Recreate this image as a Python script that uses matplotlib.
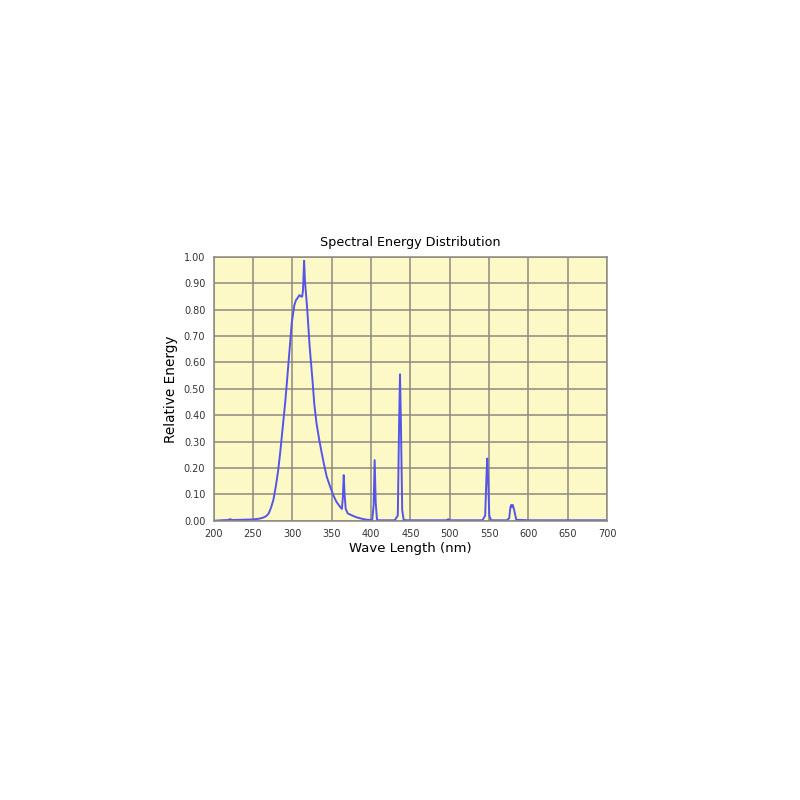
#!/usr/bin/env python3
"""Spectral energy distribution of a UV lamp, single line on a yellow grid."""
import numpy as np
import matplotlib
matplotlib.use("Agg")
import matplotlib.pyplot as plt

# (nm, relative energy)
wavelength = [200, 210, 218, 221, 224, 235, 250, 258, 263, 267, 270, 273,
              276, 279, 282, 285, 288, 291, 293, 296, 299.3, 302.6, 304.7,
              307, 309, 311, 312.5, 313.5, 315, 316, 319, 322, 325.6, 328,
              330.7, 334, 337.4, 340.5, 343.7, 348, 352, 356, 360.6, 363.0,
              364.2, 365.3, 366.4, 367.8, 370.4, 376, 381.8, 388, 394.5, 401.5,
              403.3, 404.6, 405.9, 407.5, 409, 430, 434, 435.6, 436.8, 438.0,
              439.6, 441.5, 446, 496, 498, 500, 541.5, 545, 546.5, 547.6, 548.7,
              550.2, 552.5, 572.5, 575.5, 577, 578, 579, 580, 581.5, 584.5, 600,
              700]
energy = [0.0, 0.002, 0.003, 0.006, 0.003, 0.004, 0.005, 0.008, 0.012,
          0.018, 0.028, 0.05, 0.08, 0.13, 0.19, 0.27, 0.36, 0.45, 0.52,
          0.63, 0.75, 0.817, 0.836, 0.845, 0.855, 0.85, 0.849, 0.87, 0.985,
          0.91, 0.8, 0.66, 0.533, 0.44, 0.37, 0.31, 0.256, 0.21, 0.167,
          0.13, 0.097, 0.072, 0.053, 0.045, 0.09, 0.173, 0.1, 0.045, 0.028,
          0.02, 0.013, 0.008, 0.004, 0.003, 0.06, 0.23, 0.07, 0.006, 0.002,
          0.002, 0.02, 0.36, 0.555, 0.36, 0.04, 0.003, 0.002, 0.002, 0.006,
          0.002, 0.002, 0.02, 0.16, 0.236, 0.16, 0.02, 0.002, 0.002, 0.01,
          0.05, 0.06, 0.052, 0.06, 0.045, 0.004, 0.002, 0.002]

x_ticks = [200, 250, 300, 350, 400, 450, 500, 550, 600, 650, 700]
y_ticks = [0.0, 0.1, 0.2, 0.3, 0.4, 0.5, 0.6, 0.7, 0.8, 0.9, 1.0]

GRID = "#8c8a80"
BG = "#fdf9c6"
LINE = "#5555ea"

fig = plt.figure(figsize=(8, 8), dpi=100)
ax = fig.add_axes([0.267, 0.349, 0.492, 0.330])
ax.set_facecolor(BG)

ax.plot(wavelength, energy, color=LINE, lw=1.4)

ax.set_xlim(200, 700)
ax.set_ylim(0, 1.0)
ax.set_xticks(x_ticks)
ax.set_yticks(y_ticks)
ax.set_yticklabels([f"{v:.2f}" for v in y_ticks])
ax.tick_params(length=0, labelsize=7, labelcolor="#333333", pad=6)
ax.grid(True, color=GRID, lw=1.1)
ax.set_axisbelow(True)
for sp in ax.spines.values():
    sp.set_color(GRID)
    sp.set_linewidth(1.1)

ax.set_title("Spectral Energy Distribution", fontsize=9.2, pad=8)
ax.set_xlabel("Wave Length (nm)", fontsize=9.5, labelpad=2)
ax.set_ylabel("Relative Energy", fontsize=9.8, labelpad=4)

fig.savefig("out.png", dpi=100, facecolor="white")
plt.close(fig)
